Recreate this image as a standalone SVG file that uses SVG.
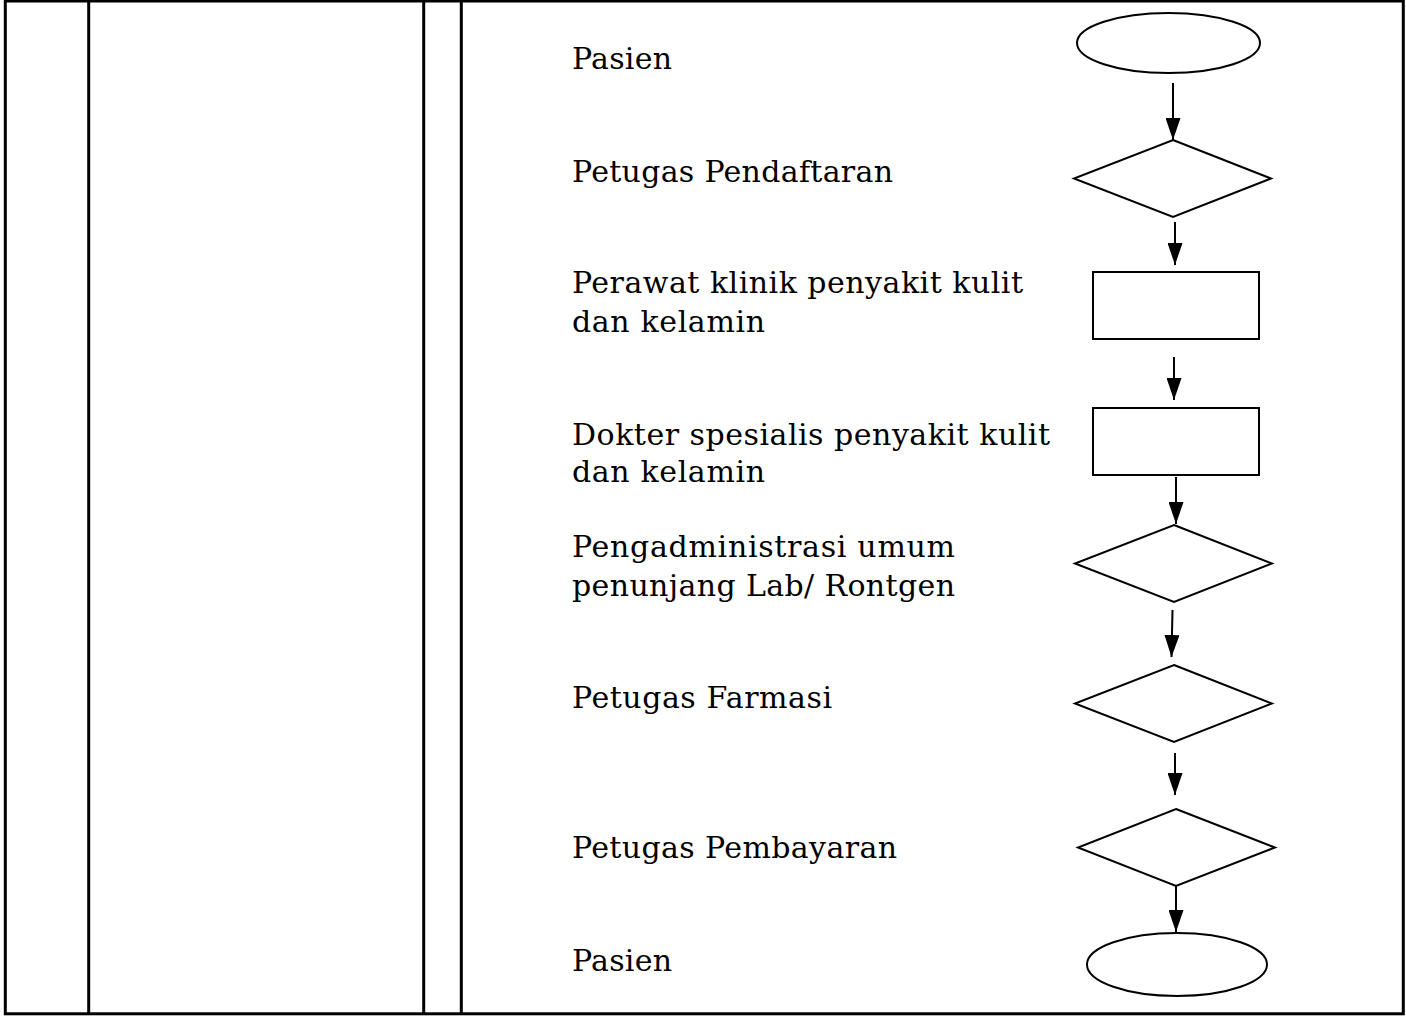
<svg xmlns="http://www.w3.org/2000/svg" width="1406" height="1023" viewBox="0 0 1406 1023">
<style>
.tbl{stroke:#000;stroke-width:3;fill:none}
.shape{stroke:#000;stroke-width:2;fill:#fff}
.conn{stroke:#000;stroke-width:2;fill:none}
.lbl{font-family:"DejaVu Serif","Liberation Serif",serif;font-size:30px;fill:#000}
</style>
<defs>
<marker id="ah" markerWidth="22" markerHeight="15" refX="22" refY="7.5" orient="auto" markerUnits="userSpaceOnUse" viewBox="0 0 22 15">
<path d="M0,0 L22,7.5 L0,15 Z" fill="#000"/>
</marker>
</defs>
<rect width="1406" height="1023" fill="#fff"/>
<g id="table">
<rect class="tbl" x="5.3" y="1" width="1398" height="1012.8"/>
<line class="tbl" x1="88.7" y1="0" x2="88.7" y2="1014"/>
<line class="tbl" x1="423.7" y1="0" x2="423.7" y2="1014"/>
<line class="tbl" x1="461.3" y1="0" x2="461.3" y2="1014"/>
</g>
<g id="labels">
<text class="lbl" x="572" y="69" textLength="100">Pasien</text>
<text class="lbl" x="572" y="182" textLength="321">Petugas Pendaftaran</text>
<text class="lbl" x="572" y="293" textLength="451">Perawat klinik penyakit kulit</text>
<text class="lbl" x="572" y="332" textLength="193">dan kelamin</text>
<text class="lbl" x="572" y="445" textLength="478">Dokter spesialis penyakit kulit</text>
<text class="lbl" x="572" y="482" textLength="193">dan kelamin</text>
<text class="lbl" x="572" y="557" textLength="383">Pengadministrasi umum</text>
<text class="lbl" x="572" y="596" textLength="383">penunjang Lab/ Rontgen</text>
<text class="lbl" x="572" y="708" textLength="260">Petugas Farmasi</text>
<text class="lbl" x="572" y="858" textLength="325">Petugas Pembayaran</text>
<text class="lbl" x="572" y="971" textLength="100">Pasien</text>
</g>
<g id="start"><ellipse class="shape" cx="1168.5" cy="43" rx="91.5" ry="30"/></g>
<g id="d1"><polygon class="shape" points="1173,140 1271,178.5 1173,217 1074,178.5"/></g>
<g id="r1"><rect class="shape" x="1093" y="272" width="166" height="67"/></g>
<g id="r2"><rect class="shape" x="1093" y="408" width="166" height="67"/></g>
<g id="d2"><polygon class="shape" points="1174,525 1272,563.5 1174,602 1075,563.5"/></g>
<g id="d3"><polygon class="shape" points="1174,665 1272,703.5 1174,742 1075,703.5"/></g>
<g id="d4"><polygon class="shape" points="1176,809 1275,847.5 1176,886 1078,847.5"/></g>
<g id="end"><ellipse class="shape" cx="1177" cy="964.5" rx="90" ry="31.5"/></g>
<g id="connectors">
<line class="conn" x1="1173" y1="83" x2="1173" y2="140" marker-end="url(#ah)"/>
<line class="conn" x1="1175" y1="222" x2="1175" y2="265" marker-end="url(#ah)"/>
<line class="conn" x1="1174" y1="357" x2="1174" y2="400" marker-end="url(#ah)"/>
<line class="conn" x1="1176" y1="477" x2="1176" y2="524" marker-end="url(#ah)"/>
<line class="conn" x1="1172.5" y1="610" x2="1171.5" y2="657" marker-end="url(#ah)"/>
<line class="conn" x1="1175" y1="753" x2="1175" y2="795" marker-end="url(#ah)"/>
<line class="conn" x1="1176" y1="886" x2="1176" y2="932" marker-end="url(#ah)"/>
</g>
</svg>
